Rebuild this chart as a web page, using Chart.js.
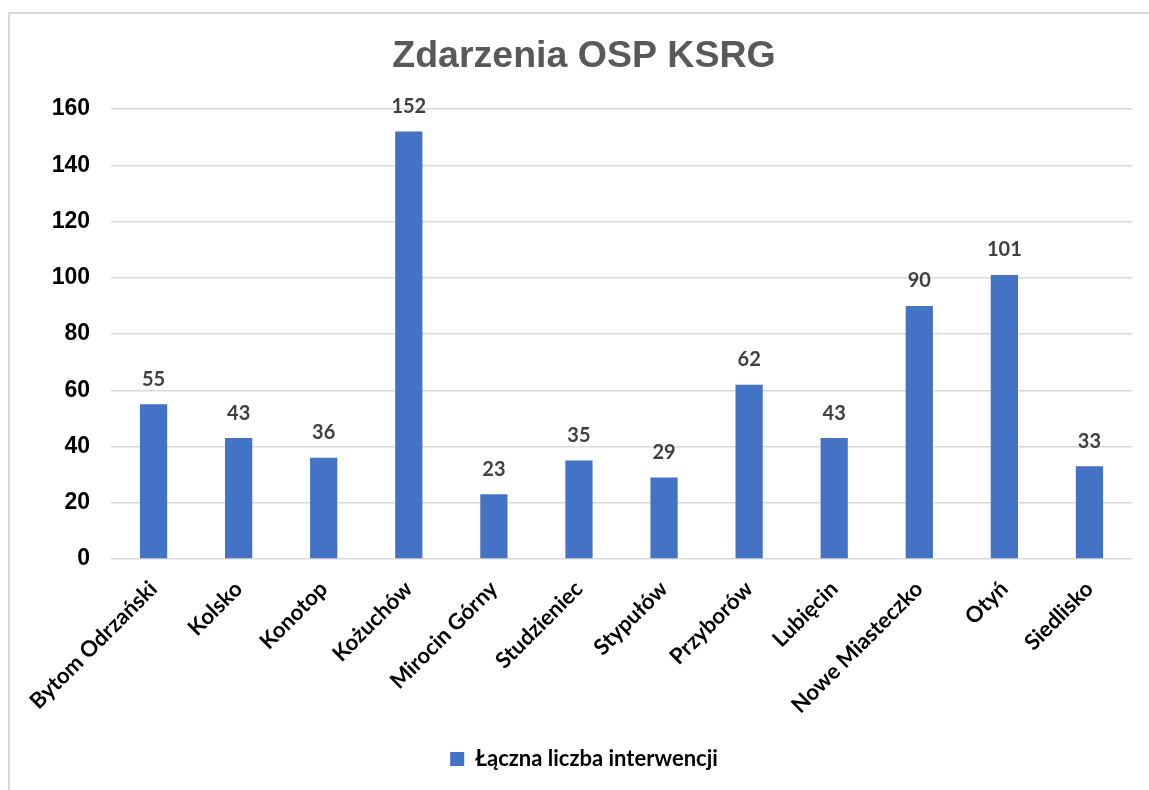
<!DOCTYPE html>
<html>
<head>
<meta charset="utf-8">
<script src="https://cdn.jsdelivr.net/npm/chart.js@4.4.1/dist/chart.umd.min.js"></script>
<style>
  html, body { margin: 0; padding: 0; background: #fff; overflow: hidden; }
  #frame {
    position: absolute; left: 8px; top: 12px; width: 1300px; height: 900px;
    border-left: 2px solid #d9d9d9; border-top: 2px solid #d9d9d9;
  }
  #wrap { position: absolute; left: 0; top: 0; width: 1149px; height: 790px; }
</style>
</head>
<body>
<div id="frame"></div>
<div id="wrap"><canvas id="bar-chart"></canvas></div>
<script>
var categories = ['Bytom Odrzański', 'Kolsko', 'Konotop', 'Kożuchów', 'Mirocin Górny',
  'Studzieniec', 'Stypułów', 'Przyborów', 'Lubięcin', 'Nowe Miasteczko', 'Otyń', 'Siedlisko'];
var interwencje = [55, 43, 36, 152, 23, 35, 29, 62, 43, 90, 101, 33];
var seriesName = 'Łączna liczba interwencji';
var yTicks = [0, 20, 40, 60, 80, 100, 120, 140, 160];

// simple value labels above the bars
var barLabels = {
  id: 'barLabels',
  afterDatasetsDraw: function(chart) {
    var ctx = chart.ctx;
    var meta = chart.getDatasetMeta(0);
    ctx.save();
    ctx.font = 'bold 20px Lato, "Open Sans", sans-serif';
    ctx.fillStyle = '#404040';
    ctx.textAlign = 'center';
    ctx.textBaseline = 'bottom';
    meta.data.forEach(function(bar, i) {
      ctx.fillText(String(chart.data.datasets[0].data[i]), bar.x, bar.y - 15);
    });
    ctx.restore();
  }
};

var ctx = document.getElementById('bar-chart');
new Chart(ctx, {
  type: 'bar',
  data: {
    labels: categories,
    datasets: [{
      label: seriesName,
      data: interwencje,
      backgroundColor: '#4472C4',
      borderWidth: 0,
      barPercentage: 0.32,
      categoryPercentage: 1
    }]
  },
  plugins: [barLabels],
  options: {
    responsive: true,
    maintainAspectRatio: false,
    animation: false,
    layout: { padding: { left: 36, right: 17, top: 0, bottom: 10 } },
    plugins: {
      title: {
        display: true,
        text: 'Zdarzenia OSP KSRG',
        color: '#595959',
        font: { family: '"Liberation Sans", Arial, sans-serif', size: 37.5, weight: 'bold' },
        padding: { top: 34, bottom: 30 }
      },
      legend: {
        position: 'bottom',
        labels: {
          color: '#000',
          boxWidth: 14,
          boxHeight: 14,
          padding: 10,
          font: { family: 'Lato, "Open Sans", sans-serif', size: 22, weight: 'bold' }
        }
      },
      tooltip: { enabled: false }
    },
    scales: {
      x: {
        grid: { display: false },
        border: { display: false },
        ticks: {
          color: '#000',
          minRotation: 45,
          maxRotation: 45,
          padding: 9,
          font: { family: 'Lato, "Open Sans", sans-serif', size: 22, weight: 'bold' }
        },
        afterFit: function(scale) { scale.height = 179; }
      },
      y: {
        min: 0,
        max: 160,
        afterBuildTicks: function(scale) {
          scale.ticks = yTicks.map(function(v) { return { value: v }; });
        },
        grid: { color: '#d9d9d9', lineWidth: 1.5, drawTicks: false },
        border: { display: false },
        ticks: {
          color: '#000',
          padding: 21,
          font: { family: '"Liberation Sans", Arial, sans-serif', size: 23, weight: 'bold' }
        },
        afterFit: function(scale) { scale.width = 75; }
      }
    }
  }
});
</script>
</body>
</html>
